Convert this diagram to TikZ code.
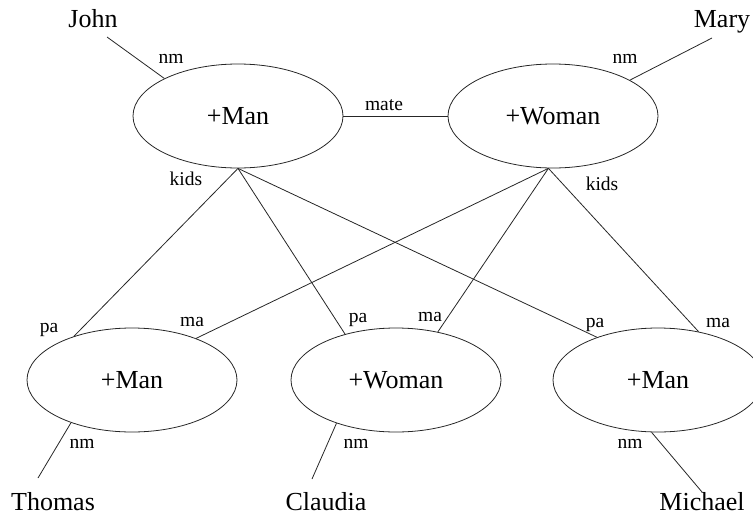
\documentclass[tikz,border=0pt]{standalone}
\usepackage{fontspec}
\setmainfont{Liberation Serif}
\usetikzlibrary{shapes.geometric}
\begin{document}
\begin{tikzpicture}[x=1pt,y=-1pt,
  frame/.style={draw=black!85,ellipse,line width=0.8pt,inner sep=0pt,
    minimum width=210pt,minimum height=104pt,font=\fontsize{26}{30}\selectfont},
  person/.style={anchor=base,inner sep=0pt,font=\fontsize{26}{30}\selectfont},
  role/.style={anchor=base,inner sep=0pt,font=\fontsize{19.5}{22}\selectfont},
  link/.style={draw=black!85,line width=0.8pt}]
\useasboundingbox (0,0) rectangle (753,517);

% feature structures
\node[frame] (m1) at (238,116) {+Man};
\node[frame] (w1) at (553,116) {+Woman};
\node[frame] (b1) at (132,380) {+Man};
\node[frame] (b2) at (396,380) {+Woman};
\node[frame] (b3) at (658,380) {+Man};

% names
\node[person] (john) at (93,27) {John};
\node[person] (mary) at (722,27) {Mary};
\node[person] (thomas) at (53,510) {Thomas};
\node[person] (claudia) at (326,510) {Claudia};
\node[person] (michael) at (702,510) {Michael};

% free ends of the name edges
\coordinate (jn) at (107,37);
\coordinate (mn) at (712,38);
\coordinate (tn) at (38,478);
\coordinate (cn) at (312,479);
\coordinate (kn) at (702,492);

% name edges
\draw[link] (m1.153) -- (jn);
\draw[link] (w1.25) -- (mn);
\draw[link] (b1.-145) -- (tn);
\draw[link] (b2.-144) -- (cn);
\draw[link] (b3.-97) -- (kn);

% mate
\draw[link] (m1.east) -- (w1.west);

% kids of the father
\draw[link] (m1.south) -- (b1.143);
\draw[link] (m1.south) -- (b2.138);
\draw[link] (m1.south) -- (b3.145);

% kids of the mother
\draw[link] (w1.-95) -- (b1.33);
\draw[link] (w1.-95) -- (b2.49);
\draw[link] (w1.-95) -- (b3.50);

% edge labels
\node[role] (l1) at (171,63) {nm};
\node[role] (l2) at (625,63) {nm};
\node[role] (l3) at (384,110) {mate};
\node[role] (l4) at (186,185) {kids};
\node[role] (l5) at (602,190) {kids};
\node[role] (l6) at (49,332) {pa};
\node[role] (l7) at (192,326) {ma};
\node[role] (l8) at (358,322) {pa};
\node[role] (l9) at (430,321) {ma};
\node[role] (l10) at (595,327) {pa};
\node[role] (l11) at (718,327) {ma};
\node[role] (l12) at (82,448) {nm};
\node[role] (l13) at (356,448) {nm};
\node[role] (l14) at (630,448) {nm};
\end{tikzpicture}
\end{document}
